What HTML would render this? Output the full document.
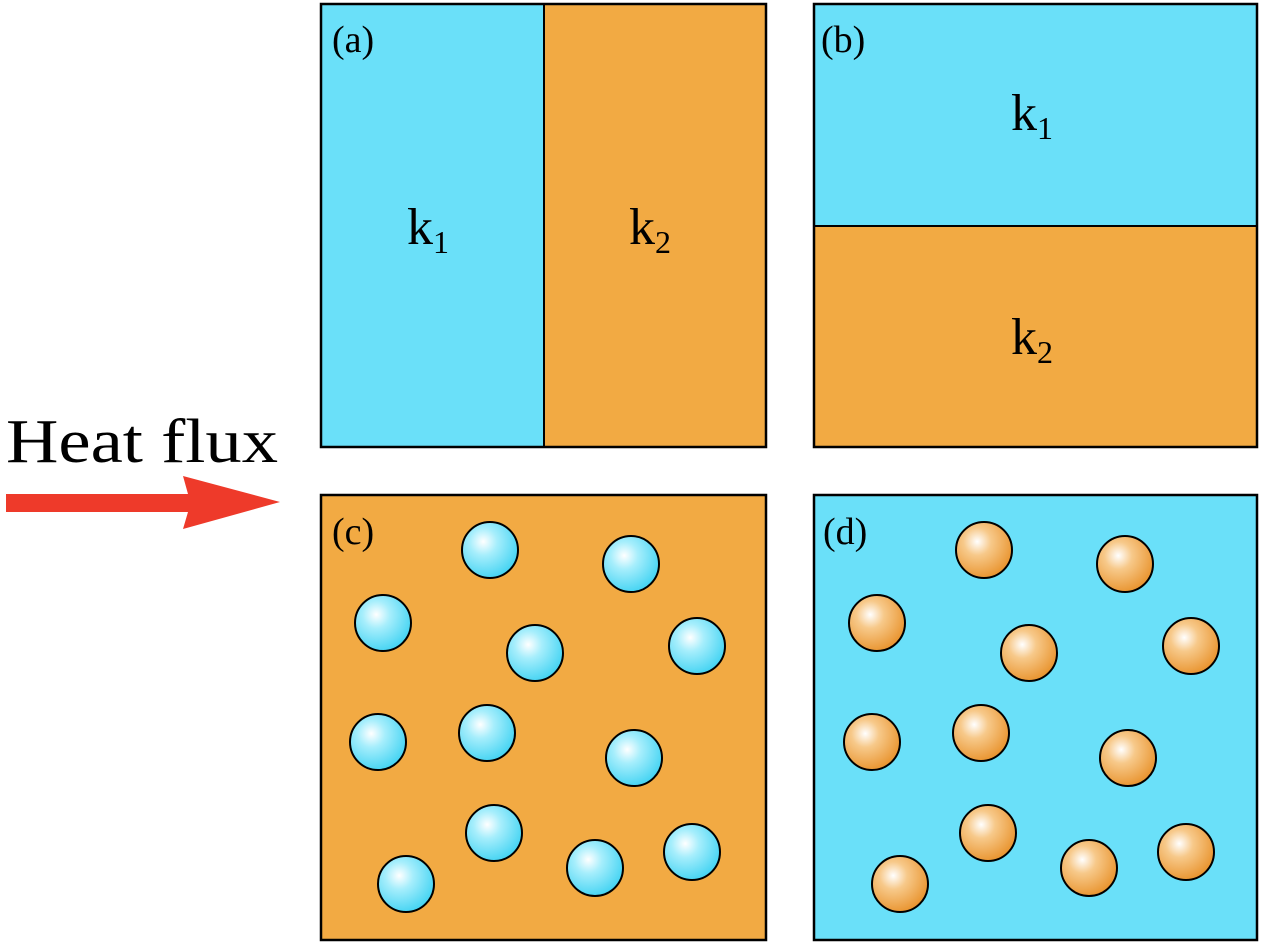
<!DOCTYPE html>
<html><head><meta charset="utf-8"><style>
html,body{margin:0;padding:0;background:#fff;}
svg{display:block;}
text{font-family:"Liberation Serif",serif;fill:#000;}
</style></head><body>
<svg width="1264" height="948" viewBox="0 0 1264 948">
<defs>
<radialGradient id="gc" cx="0.38" cy="0.35" r="0.7">
<stop offset="0" stop-color="#ffffff"/><stop offset="0.35" stop-color="#a6eefc"/><stop offset="1" stop-color="#3fd2f2"/>
</radialGradient>
<radialGradient id="go" cx="0.38" cy="0.35" r="0.7">
<stop offset="0" stop-color="#ffffff"/><stop offset="0.35" stop-color="#f7c98a"/><stop offset="1" stop-color="#e8912a"/>
</radialGradient>
</defs>
<g><text x="6" y="462" font-size="62" textLength="272" lengthAdjust="spacingAndGlyphs">Heat flux</text></g>
<polygon points="6,494 188,494 183,476 280,502 183,529 188,512 6,512" fill="#ee3a2a"/>

<g>
<rect x="321" y="4" width="223" height="443" fill="#6ae0f9"/>
<rect x="544" y="4" width="222" height="443" fill="#f2aa43"/>
<rect x="321" y="4" width="445" height="443" fill="none" stroke="#000" stroke-width="2.5"/>
<line x1="544" y1="4" x2="544" y2="447" stroke="#000" stroke-width="2"/>
<text x="332" y="52" font-size="38">(a)</text>
<text x="407" y="244" font-size="52">k<tspan font-size="32" dy="9">1</tspan></text>
<text x="629" y="244" font-size="52">k<tspan font-size="32" dy="9">2</tspan></text>
</g>
<g>
<rect x="814" y="4" width="443" height="222" fill="#6ae0f9"/>
<rect x="814" y="226" width="443" height="221" fill="#f2aa43"/>
<rect x="814" y="4" width="443" height="443" fill="none" stroke="#000" stroke-width="2.5"/>
<line x1="814" y1="226" x2="1257" y2="226" stroke="#000" stroke-width="2"/>
<text x="821" y="52" font-size="38">(b)</text>
<text x="1011" y="130" font-size="52">k<tspan font-size="32" dy="9">1</tspan></text>
<text x="1011" y="354" font-size="52">k<tspan font-size="32" dy="9">2</tspan></text>
</g>
<g>
<rect x="321" y="495" width="445" height="445" fill="#f2aa43" stroke="#000" stroke-width="2.5"/>
<text x="332" y="544" font-size="38">(c)</text>
<g id="cc"></g>
</g>
<g>
<rect x="814" y="495" width="443" height="445" fill="#6ae0f9" stroke="#000" stroke-width="2.5"/>
<text x="823" y="544" font-size="38">(d)</text>
<g id="cd"></g>
</g>
</svg>
<script>
const circX=[490,631,383,535,697,378,487,634,494,406,595,692];
const circY=[550,564,623,653,646,742,733,758,833,884,868,852];
const NS="http://www.w3.org/2000/svg";
function draw(gid,dx,fill){
  const g=document.getElementById(gid);
  for(let i=0;i<circX.length;i++){
    const c=document.createElementNS(NS,"circle");
    
    
    c.setAttribute("cx",circX[i]+dx);c.setAttribute("cy",circY[i]);
    c.setAttribute("r",28);c.setAttribute("fill",fill);
    c.setAttribute("stroke","#000");c.setAttribute("stroke-width","2");
    g.appendChild(c);
  }
}
draw("cc",0,"url(#gc)");
draw("cd",494,"url(#go)");
</script>
</body></html>
